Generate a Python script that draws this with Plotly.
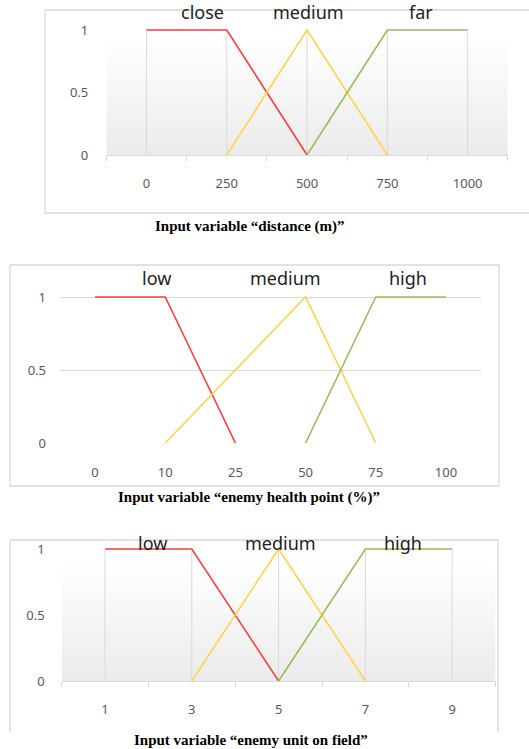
import base64
import plotly.graph_objects as go

W, H = 529, 749

# ---------------- data ----------------
dist_cats = ["0", "250", "500", "750", "1000"]
dist_close = [1, 1, 0, None, None]
dist_medium = [None, 0, 1, 0, None]
dist_far = [None, None, 0, 1, 1]
dist_names = ["close", "medium", "far"]

hp_cats = ["0", "10", "25", "50", "75", "100"]
hp_low = [1, 1, 0, None, None, None]
hp_medium = [None, 0, None, 1, 0, None]
hp_high = [None, None, None, 0, 1, 1]
hp_names = ["low", "medium", "high"]

unit_cats = ["1", "3", "5", "7", "9"]
unit_low = [1, 1, 0, None, None]
unit_medium = [None, 0, 1, 0, None]
unit_high = [None, None, 0, 1, 1]
unit_names = ["low", "medium", "high"]

y_ticks = [0, 0.5, 1]
y_ticktext = ["0", "0.5", "1"]

titles = ["Input variable \u201cdistance (m)\u201d",
          "Input variable \u201cenemy health point (%)\u201d",
          "Input variable \u201cenemy unit on field\u201d"]

# ---------------- style ----------------
RED, YEL, GRN = "#FF3B3B", "#FFD447", "#9BBB59"
GRID = "#D9D9D9"
TICKC = "#595959"
TICKFONT = dict(family="Noto Sans", size=13, color=TICKC)


def px_x(p):
    return p / W


def px_y(p):
    return 1 - p / H


fig = go.Figure()

# panel geometry (window pixels): x-left, x-right, y of value 0, y of value 1
panels = [
    dict(ax="", x0=106.3, x1=507.8, y0=155, y1=30, top=1.1, cats=dist_cats,
         series=[dist_close, dist_medium, dist_far], grad=True, vgrid=True,
         names=dist_names, name_pos=[(202, 12.5), (308, 12.5), (421, 12.5)],
         ystand=17, title_pos=(250, 226)),
    dict(ax="2", x0=60.0, x1=481.0, y0=443, y1=297, top=1.1, cats=hp_cats,
         series=[hp_low, hp_medium, hp_high], grad=False, vgrid=False,
         names=hp_names, name_pos=[(156, 278), (285, 278), (408, 278)],
         ystand=13, title_pos=(249, 497)),
    dict(ax="3", x0=61.6, x1=495.6, y0=681, y1=549, top=1.05, cats=unit_cats,
         series=[unit_low, unit_medium, unit_high], grad=True, vgrid=True,
         names=unit_names, name_pos=[(152, 543), (280, 543), (403, 543)],
         ystand=16, title_pos=(251, 740)),
]

svg = ('<svg xmlns="http://www.w3.org/2000/svg" width="10" height="100" '
       'preserveAspectRatio="none"><defs><linearGradient id="g" x1="0" y1="0" '
       'x2="0" y2="1"><stop offset="0" stop-color="#FFFFFF"/>'
       '<stop offset="0.15" stop-color="#FFFFFF"/>'
       '<stop offset="1" stop-color="#EBEBEB"/></linearGradient></defs>'
       '<rect width="10" height="100" fill="url(#g)"/></svg>')
grad_src = "data:image/svg+xml;base64," + base64.b64encode(svg.encode()).decode()

images = []
annotations = []
colors = [RED, YEL, GRN]

for p in panels:
    xa = "x" + p["ax"]
    ya = "y" + p["ax"]
    unit = p["y0"] - p["y1"]
    top_px = p["y0"] - p["top"] * unit
    xdom = [px_x(p["x0"]), px_x(p["x1"])]
    ydom = [px_y(p["y0"]), px_y(top_px)]
    cats = p["cats"]

    if p["vgrid"]:
        gx, gy = [], []
        for c in cats:
            gx += [c, c, None]
            gy += [0, 1, None]
        fig.add_trace(go.Scatter(x=gx, y=gy, mode="lines", xaxis=xa, yaxis=ya,
                                 line=dict(color=GRID, width=1), hoverinfo="skip",
                                 showlegend=False, connectgaps=False))

    for s, col in zip(p["series"], colors):
        xs = [c for c, v in zip(cats, s) if v is not None]
        ys = [v for v in s if v is not None]
        fig.add_trace(go.Scatter(x=xs, y=ys, mode="lines", xaxis=xa, yaxis=ya,
                                 line=dict(color=col, width=1.6), showlegend=False,
                                 cliponaxis=False))

    xkey = "xaxis" + p["ax"]
    ykey = "yaxis" + p["ax"]
    xcfg = dict(domain=xdom, anchor=ya, type="category", categoryorder="array",
                categoryarray=cats, range=[-0.5, len(cats) - 0.5],
                showgrid=False, zeroline=False, tickfont=TICKFONT,
                fixedrange=True, automargin=False)
    if p["vgrid"]:
        xcfg.update(showline=True, linecolor=GRID, linewidth=1,
                    ticks="outside", tickson="boundaries", ticklen=5,
                    tickcolor=GRID, ticklabelstandoff=16)
    else:
        xcfg.update(showline=False, ticks="", ticklabelstandoff=20)
    ycfg = dict(domain=ydom, anchor=xa, range=[0, p["top"]], tickvals=y_ticks,
                ticktext=y_ticktext, zeroline=False, showline=False,
                tickfont=TICKFONT, ticks="", ticklabelstandoff=p["ystand"],
                showgrid=not p["vgrid"], gridcolor=GRID, gridwidth=1,
                fixedrange=True, automargin=False)
    fig.update_layout(**{xkey: xcfg, ykey: ycfg})

    if p["grad"]:
        images.append(dict(source=grad_src, xref="paper", yref="paper",
                           x=xdom[0], y=ydom[1], sizex=xdom[1] - xdom[0],
                           sizey=ydom[1] - ydom[0], sizing="stretch",
                           xanchor="left", yanchor="top", layer="below"))

    for name, (nx, ny) in zip(p["names"], p["name_pos"]):
        annotations.append(dict(text=name, x=px_x(nx), y=px_y(ny), xref="paper",
                                yref="paper", showarrow=False, xanchor="center",
                                yanchor="middle", borderpad=0,
                                font=dict(family="Noto Sans", size=18,
                                          color="#1E1E1E")))

for t, p in zip(titles, panels):
    tx, ty = p["title_pos"]
    annotations.append(dict(text="<b>" + t + "</b>", x=px_x(tx), y=px_y(ty),
                            xref="paper", yref="paper", showarrow=False,
                            xanchor="center", yanchor="middle",
                            font=dict(family="Liberation Serif", size=15,
                                      color="#000000")))


def frame_path(pts):
    return "M " + " L ".join(f"{px_x(a):.5f},{px_y(b):.5f}" for a, b in pts)


shapes = [
    dict(type="path", xref="paper", yref="paper",
         path=frame_path([(560, 213), (45, 213), (45, 10), (560, 10)]),
         line=dict(color=GRID, width=1.3)),
    dict(type="rect", xref="paper", yref="paper",
         x0=px_x(10), x1=px_x(499), y0=px_y(486), y1=px_y(265),
         line=dict(color=GRID, width=1.3)),
    dict(type="path", xref="paper", yref="paper",
         path=frame_path([(10, 733), (10, 540), (498, 540), (498, 733)]),
         line=dict(color=GRID, width=1.3)),
]

fig.update_layout(width=W, height=H, autosize=False,
                  margin=dict(l=0, r=0, t=0, b=0, pad=0, autoexpand=False),
                  paper_bgcolor="white", plot_bgcolor="rgba(0,0,0,0)",
                  showlegend=False, images=images, annotations=annotations,
                  shapes=shapes)

# remove the default 8px page margin so the figure fills the window exactly
fig.write_html("out.html", config={"displayModeBar": False},
               post_script="document.body.style.margin='0';"
                           "document.body.style.overflow='hidden';")
